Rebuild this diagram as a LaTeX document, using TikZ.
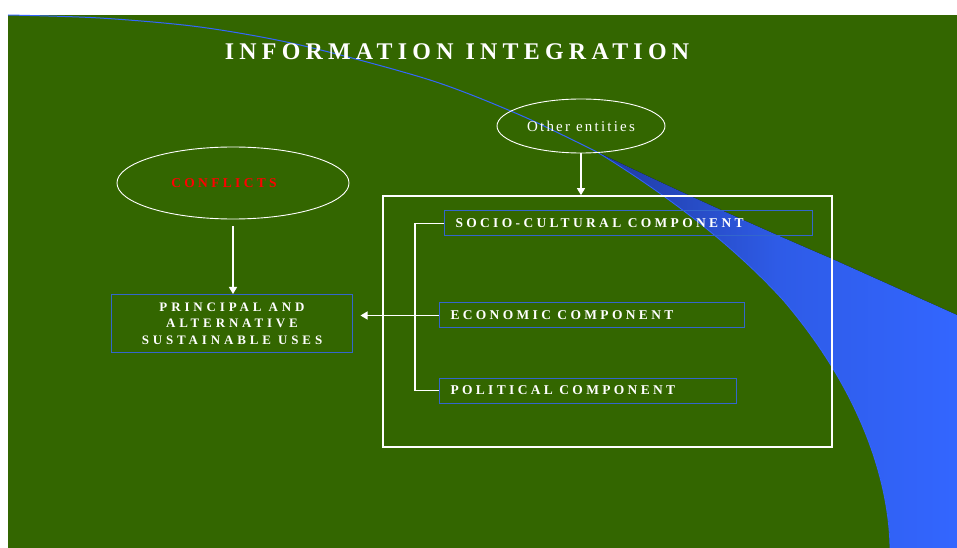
\documentclass[tikz,border=0pt]{standalone}
\usepackage{fontspec}
\setmainfont{Liberation Serif}
\usepackage{tikz}
\usetikzlibrary{positioning,arrows.meta,shapes.geometric}
\definecolor{slidegreen}{HTML}{336600}
\definecolor{swoosh}{HTML}{3366FF}
\definecolor{swooshdark}{HTML}{1F3A9E}
\definecolor{boxblue}{HTML}{3366CC}

\begin{document}
\begin{tikzpicture}[x=1bp, y=-1bp,
  ell/.style={draw=white, line width=0.9bp, ellipse, inner sep=0pt, text=white},
  bbox/.style={draw=boxblue, line width=1bp, text=white, inner sep=0pt},
  comp/.style={bbox, anchor=west, align=left, inner xsep=11bp, minimum height=25bp, font=\fontsize{13.5}{15}\selectfont\bfseries\addfontfeature{LetterSpace=25}},
  frm/.style={draw=white, line width=1.6bp, inner sep=0pt},
  wline/.style={draw=white, line width=1.2bp},
  arr/.style={wline, -{Triangle[length=7bp, width=8bp]}}
]
\useasboundingbox (0,0) rectangle (957,548);
\fill[white] (0,0) rectangle (957,548);
\fill[slidegreen] (8,15) rectangle (957,548);

% swoosh in the background
\fill[left color=swooshdark, right color=swoosh, middle color=swoosh!75!swooshdark]
  (597,152) .. controls (680,192) and (760,228) .. (830,258) -- (957,315) -- (957,548) -- (890,548)
  .. controls (889,480) and (860,390) .. (783,300) .. controls (740,253) and (680,203) .. cycle;
\draw[swoosh, line width=1bp] plot[smooth] coordinates {(8,15) (100,18) (200,27) (300,45) (430,80) (520,115) (597,152)};
\draw[swoosh, line width=0.8bp] (597,152) .. controls (680,203) and (740,253) .. (783,300) .. controls (860,390) and (889,480) .. (890,548);

\node[text=white, font=\fontsize{24}{28}\selectfont\bfseries\addfontfeature{LetterSpace=22}] (ttl) at (457,52) {INFORMATION\hspace{12bp}INTEGRATION};

\node[ell, minimum width=168bp, minimum height=54bp, font=\fontsize{15}{18}\selectfont\addfontfeature{LetterSpace=15}] (oth) at (581,126) {Other entities};
\node[ell, minimum width=232bp, minimum height=72bp, text=red, font=\fontsize{13.5}{16}\selectfont\bfseries\addfontfeature{LetterSpace=25}] (cfl) at (233,183) {CONFLICTS\kern18bp};

\node[bbox, minimum width=240bp, minimum height=58bp, align=center, font=\fontsize{13}{16.5}\selectfont\bfseries\addfontfeature{LetterSpace=30}] (prin) at (232,323.5) {PRINCIPAL AND\\ALTERNATIVE\\SUSTAINABLE USES};

\node[frm, minimum width=449bp, minimum height=251bp] (frm) at (607.5,321.5) {};
\node[comp, text width=346bp] (soc) at (444,223.5) {SOCIO-CULTURAL\hspace{6.5bp}COMPONENT};
\node[comp, text width=283bp] (eco) at (439,315.5) {ECONOMIC\hspace{6.5bp}COMPONENT};
\node[comp, text width=275bp] (pol) at (439,390.5) {POLITICAL\hspace{6.5bp}COMPONENT};

\coordinate (br) at (415,226);
\draw[wline] (soc.west) -- (soc.west -| br) -- (pol.west -| br) -- (pol.west);
\draw[arr] (oth) -- (oth.south |- frm.north);
\draw[arr, shorten <=7bp] (cfl.south) -- (cfl.south |- prin.north);
\draw[arr, shorten >=8bp] (eco.west) -- (eco.west -| prin.east);
\end{tikzpicture}
\end{document}
